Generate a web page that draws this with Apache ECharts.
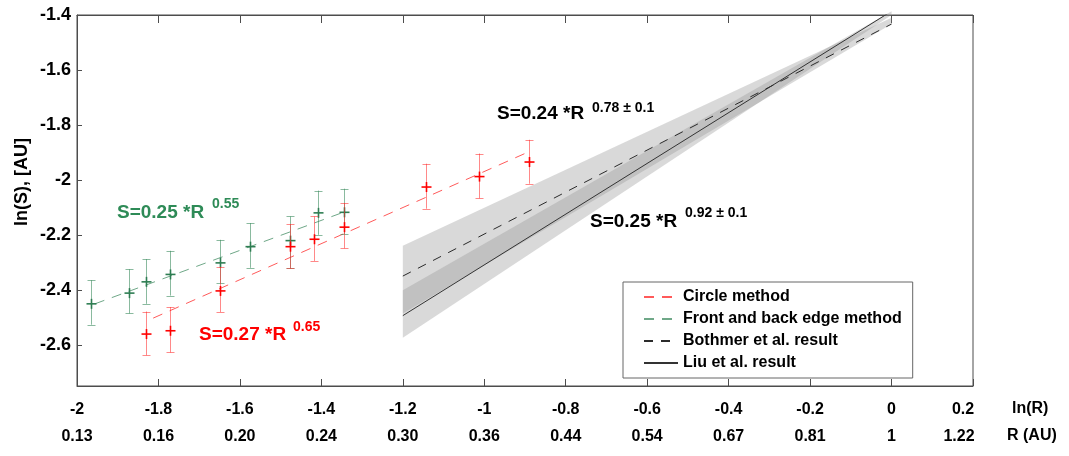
<!DOCTYPE html>
<html>
<head>
<meta charset="utf-8">
<script src="https://cdn.jsdelivr.net/npm/echarts@6/dist/echarts.min.js"></script>
<style>
html,body{margin:0;padding:0;background:#fff;}
#c{width:1069px;height:456px;}
</style>
</head>
<body>
<div id="c"></div>
<script>
// ---- axis ticks ----
const lnTicks = [-2, -1.8, -1.6, -1.4, -1.2, -1, -0.8, -0.6, -0.4, -0.2, 0, 0.2];
const lnTickLabels = ['-2', '-1.8', '-1.6', '-1.4', '-1.2', '-1', '-0.8', '-0.6', '-0.4', '-0.2', '0', '0.2'];
const rTickLabels = ['0.13', '0.16', '0.20', '0.24', '0.30', '0.36', '0.44', '0.54', '0.67', '0.81', '1', '1.22'];
const yTicks = [-2.6, -2.4, -2.2, -2, -1.8, -1.6, -1.4];
const yTickLabels = ['-2.6', '-2.4', '-2.2', '-2', '-1.8', '-1.6', '-1.4'];

// ---- circle method (red) ----
const circleX  = [-1.831, -1.771, -1.649, -1.476, -1.417, -1.345, -1.144, -1.012, -0.891];
const circleY  = [-2.561, -2.549, -2.404, -2.243, -2.216, -2.172, -2.026, -1.988, -1.935];
const circleLo = [-2.638, -2.628, -2.481, -2.322, -2.295, -2.249, -2.105, -2.067, -2.014];
const circleHi = [-2.479, -2.463, -2.316, -2.161, -2.133, -2.084, -1.941, -1.904, -1.854];
const circleFitX = [-1.813, -0.891];
const circleFitY = [-2.503, -1.898];

// ---- front and back edge method (green) ----
const edgeX  = [-1.966, -1.872, -1.831, -1.771, -1.649, -1.575, -1.476, -1.409, -1.345];
const edgeY  = [-2.451, -2.412, -2.371, -2.344, -2.302, -2.243, -2.221, -2.120, -2.118];
const edgeLo = [-2.527, -2.486, -2.451, -2.421, -2.377, -2.320, -2.322, -2.200, -2.197];
const edgeHi = [-2.365, -2.325, -2.288, -2.258, -2.218, -2.157, -2.133, -2.039, -2.032];
const edgeFitX = [-1.956, -1.339];
const edgeFitY = [-2.451, -2.114];

// ---- Bothmer et al. (dashed) and Liu et al. (solid) ----
const bothmerX = [-1.2, 0];
const bothmerY = [-2.350, -1.433];
const bothmerUpper = [-2.240, -1.410];
const bothmerLower = [-2.486, -1.433];
const liuX = [-1.2, 0];
const liuY = [-2.494, -1.386];
const liuUpper = [-2.402, -1.386];
const liuLower = [-2.574, -1.400];

const FONT = '"Liberation Sans", Arial, sans-serif';
const chart = echarts.init(document.getElementById('c'));

function bandSeries(xs, up, lo) {
  return {
    type: 'custom', silent: true, z: 1,
    data: [[xs[0], up[0]]],
    renderItem: function (params, api) {
      const pts = [];
      for (let i = 0; i < xs.length; i++) pts.push(api.coord([xs[i], up[i]]));
      for (let i = xs.length - 1; i >= 0; i--) pts.push(api.coord([xs[i], lo[i]]));
      return { type: 'polygon', shape: { points: pts },
               style: { fill: 'rgba(150,150,150,0.36)', stroke: null } };
    }
  };
}

function errSeries(xs, ys, los, his, barColor, markColor) {
  return {
    type: 'custom', silent: true, z: 5,
    data: xs.map((x, i) => [x, ys[i], los[i], his[i]]),
    encode: { x: 0, y: [1, 2, 3] },
    renderItem: function (params, api) {
      const p = api.coord([api.value(0), api.value(1)]);
      const lo = api.coord([api.value(0), api.value(2)]);
      const hi = api.coord([api.value(0), api.value(3)]);
      const x = Math.round(p[0]) + 0.5;
      const bs = { stroke: barColor, lineWidth: 1 };
      const ms = { stroke: markColor, lineWidth: 1.6 };
      return { type: 'group', children: [
        { type: 'line', shape: { x1: x, y1: lo[1], x2: x, y2: hi[1] }, style: bs },
        { type: 'line', shape: { x1: x - 4, y1: Math.round(lo[1]) + 0.5, x2: x + 4, y2: Math.round(lo[1]) + 0.5 }, style: bs },
        { type: 'line', shape: { x1: x - 4, y1: Math.round(hi[1]) + 0.5, x2: x + 4, y2: Math.round(hi[1]) + 0.5 }, style: bs },
        { type: 'line', shape: { x1: x - 5, y1: p[1], x2: x + 5, y2: p[1] }, style: ms },
        { type: 'line', shape: { x1: x, y1: p[1] - 5, x2: x, y2: p[1] + 5 }, style: ms }
      ]};
    }
  };
}

const zip = (a, b) => a.map((v, i) => [v, b[i]]);

const axisLineStyle = { color: '#4d4d4d', width: 1 };
const tickFont = { fontFamily: FONT, fontWeight: 'bold', fontSize: 16, lineHeight: 27, color: '#000' };

chart.setOption({
  animation: false,
  backgroundColor: '#fff',
  grid: { left: 77, right: 96, top: 15, bottom: 70, show: true, borderColor: '#4d4d4d', borderWidth: 1 },
  xAxis: [{
    type: 'value', min: -2, max: 0.2, interval: 0.2, position: 'bottom',
    axisLine: { show: true, onZero: false, lineStyle: axisLineStyle },
    axisTick: { show: true, inside: true, length: 7, customValues: lnTicks, lineStyle: axisLineStyle },
    splitLine: { show: false },
    axisLabel: {
      customValues: lnTicks, margin: 10,
      formatter: function (v) {
        const i = lnTicks.findIndex(t => Math.abs(t - v) < 1e-6);
        if (i < 0) return '';
        if (i === lnTicks.length - 1) return '{c|' + lnTickLabels[i] + '}\n{d|' + rTickLabels[i] + '}';
        return '{a|' + lnTickLabels[i] + '}\n{b|' + rTickLabels[i] + '}';
      },
      rich: {
        a: tickFont,
        b: tickFont,
        c: Object.assign({ padding: [0, 20, 0, 0] }, tickFont),
        d: Object.assign({ padding: [0, 28, 0, 0] }, tickFont)
      }
    }
  }, {
    type: 'value', min: -2, max: 0.2, interval: 0.2, position: 'top',
    axisLine: { show: true, onZero: false, lineStyle: axisLineStyle },
    axisTick: { show: true, inside: true, length: 8, customValues: lnTicks, lineStyle: axisLineStyle },
    axisLabel: { show: false }, splitLine: { show: false }
  }],
  yAxis: {
    type: 'value', min: -2.75, max: -1.4,
    axisLine: { show: true, onZero: false, lineStyle: axisLineStyle },
    axisTick: { show: true, inside: true, length: 5, customValues: yTicks, lineStyle: axisLineStyle },
    splitLine: { show: false },
    axisLabel: {
      customValues: yTicks, margin: 6,
      fontFamily: FONT, fontWeight: 'bold', fontSize: 18, color: '#000',
      formatter: function (v) {
        const i = yTicks.findIndex(t => Math.abs(t - v) < 1e-6);
        return i < 0 ? '' : yTickLabels[i];
      }
    }
  },
  legend: {
    left: 623, top: 282, orient: 'vertical',
    padding: [7, 11, 7, 20], itemGap: 6, itemWidth: 34, itemHeight: 16,
    borderColor: '#666', borderWidth: 1, backgroundColor: '#fff',
    itemStyle: { opacity: 0 },
    textStyle: { fontFamily: FONT, fontWeight: 'bold', fontSize: 16, color: '#000' },
    data: ['Circle method', 'Front and back edge method', 'Bothmer et al. result', 'Liu et al. result']
  },
  series: [
    bandSeries(bothmerX, bothmerUpper, bothmerLower),
    bandSeries(liuX, liuUpper, liuLower),
    { name: 'Circle method', type: 'line', data: zip(circleFitX, circleFitY), symbol: 'none', z: 3,
      itemStyle: { color: '#ff5a5a' },
      lineStyle: { color: '#ff5a5a', width: 1, type: [10, 8] } },
    { name: 'Front and back edge method', type: 'line', data: zip(edgeFitX, edgeFitY), symbol: 'none', z: 3,
      itemStyle: { color: '#6fa888' },
      lineStyle: { color: '#6fa888', width: 1, type: [10, 8] } },
    { name: 'Bothmer et al. result', type: 'line', data: zip(bothmerX, bothmerY), symbol: 'none', z: 3,
      itemStyle: { color: '#2b2b2b' },
      lineStyle: { color: '#2b2b2b', width: 1, type: [9, 8] } },
    { name: 'Liu et al. result', type: 'line', data: zip(liuX, liuY), symbol: 'none', z: 3,
      itemStyle: { color: '#333' },
      lineStyle: { color: '#333', width: 1 } },
    errSeries(edgeX, edgeY, edgeLo, edgeHi, 'rgba(60,140,95,0.6)', '#2e7d52'),
    errSeries(circleX, circleY, circleLo, circleHi, 'rgba(255,40,40,0.55)', '#ff0000')
  ],
  graphic: [
    { type: 'text', x: 22, y: 182, rotation: Math.PI / 2,
      style: { text: 'ln(S), [AU]', font: 'bold 18px ' + FONT, fill: '#000', align: 'center', verticalAlign: 'middle' } },
    { type: 'text', left: 117, top: 203, style: { text: 'S=0.25 *R', font: 'bold 19px ' + FONT, fill: '#2e8b57' } },
    { type: 'text', left: 212, top: 197, style: { text: '0.55', font: 'bold 14px ' + FONT, fill: '#2e8b57' } },
    { type: 'text', left: 199, top: 325, style: { text: 'S=0.27 *R', font: 'bold 19px ' + FONT, fill: '#ff0000' } },
    { type: 'text', left: 293, top: 320, style: { text: '0.65', font: 'bold 14px ' + FONT, fill: '#ff0000' } },
    { type: 'text', left: 497, top: 104, style: { text: 'S=0.24 *R', font: 'bold 19px ' + FONT, fill: '#000' } },
    { type: 'text', left: 592, top: 101, style: { text: '0.78 \u00b1 0.1', font: 'bold 14px ' + FONT, fill: '#000' } },
    { type: 'text', left: 590, top: 212, style: { text: 'S=0.25 *R', font: 'bold 19px ' + FONT, fill: '#000' } },
    { type: 'text', left: 685, top: 206, style: { text: '0.92 \u00b1 0.1', font: 'bold 14px ' + FONT, fill: '#000' } },
    { type: 'text', left: 1012, top: 401, style: { text: 'ln(R)', font: 'bold 16px ' + FONT, fill: '#000' } },
    { type: 'text', left: 1007, top: 428, style: { text: 'R (AU)', font: 'bold 16px ' + FONT, fill: '#000' } }
  ]
});
</script>
</body>
</html>
